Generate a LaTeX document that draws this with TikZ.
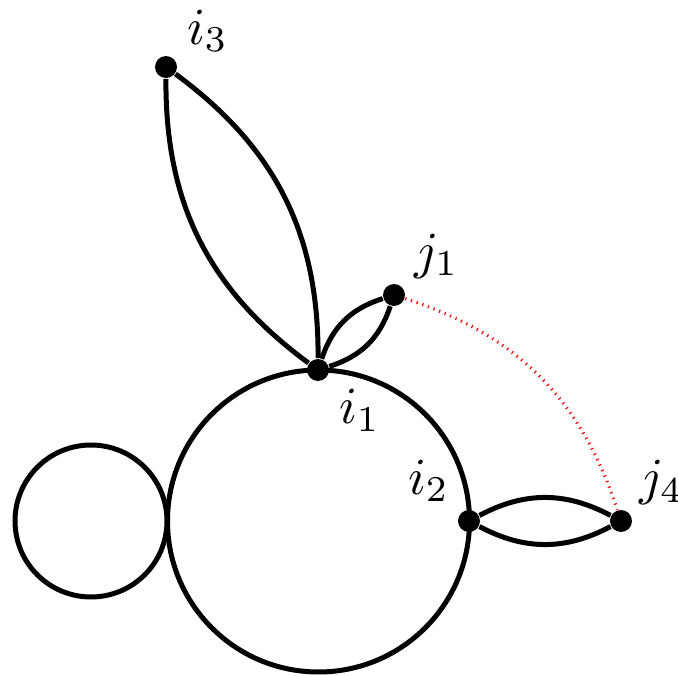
\documentclass[tikz,border=0pt]{standalone}
\begin{document}
\begin{tikzpicture}[x=0.25pt,y=-0.25pt,
  edge/.style={line width=1.25pt},
  vdot/.style={circle,fill=black,inner sep=0pt,minimum size=5.5pt},
  ring/.style={circle,draw=black,line width=1.25pt,inner sep=0pt},
  lbl/.style={inner sep=0pt,anchor=base west,scale=1.3,transform shape},
  redarc/.style={red,line width=0.8pt,dash pattern=on 0.3pt off 1.2pt}]
\useasboundingbox (0,0) rectangle (678,676);
\clip (0,0) rectangle (678,676);
% circles
\node[ring,minimum size=75.5pt] (big) at (318.5,521) {};
\node[ring,minimum size=38pt] (small) at (91,521) {};
% vertices
\node[vdot] (i1) at (318,370) {};
\node[vdot] (i2) at (469,521) {};
\node[vdot] (i3) at (166,67) {};
\node[vdot] (j1) at (394,295) {};
\node[vdot] (j4) at (621,521) {};
% lenses
\draw[edge] (i1) to[bend left=27] (i3);
\draw[edge] (i1) to[bend right=27] (i3);
\draw[edge] (i1) to[bend left=27] (j1);
\draw[edge] (i1) to[bend right=27] (j1);
\draw[edge] (i2) to[bend left=28] (j4);
\draw[edge] (i2) to[bend right=28] (j4);
% red dotted arc
\draw[redarc] (j1) to[bend left=27] (j4);
% labels
\node[lbl] (li3) at (186,44) {$i_3$};
\node[lbl] (lj1) at (413,268) {$j_1$};
\node[lbl] (li1) at (338,424) {$i_1$};
\node[lbl] (li2) at (407,494) {$i_2$};
\node[lbl] (lj4) at (638,495) {$j_4$};
\end{tikzpicture}
\end{document}
